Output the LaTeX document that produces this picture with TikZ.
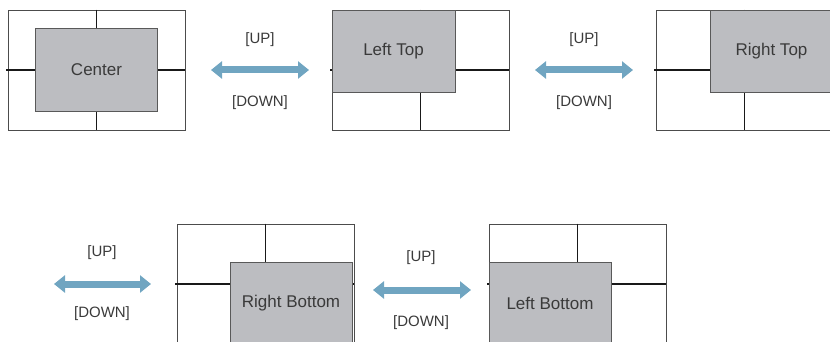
\documentclass[tikz,border=0pt]{standalone}
\usepackage{fontspec}
\setmainfont{Liberation Sans}
\usetikzlibrary{arrows.meta,positioning}
\definecolor{panelgray}{RGB}{188,189,193}
\definecolor{arrowblue}{RGB}{112,165,193}
\definecolor{textgray}{RGB}{58,58,58}
\tikzset{
 frame/.style={draw=black!70,line width=0.8pt,minimum width=177pt,minimum height=120pt,
             inner sep=0pt},
 win/.style={draw=black!65,line width=0.8pt,fill=panelgray,minimum width=122pt,
             minimum height=83pt,inner sep=0pt,text=textgray,font=\fontsize{17}{19}\selectfont},
 cross/.style={line width=1.3pt,black!90},
 swap/.style={arrowblue,line width=7pt,
             {Triangle[width=17pt,length=11pt]}-{Triangle[width=17pt,length=11pt]}},
 lbl/.style={text=textgray,font=\fontsize{15}{17}\selectfont}
}

\begin{document}
\begin{tikzpicture}[x=1pt,y=-1pt]
\clip (0,0) rectangle (830,342);
% screen frames
\node[frame] (f1) at (96.5,70) {};
\node[frame] (f2) at (420.5,70) {};
\node[frame] (f3) at (744.5,70) {};
\node[frame] (f4) at (265.5,284) {};
\node[frame] (f5) at (577.5,284) {};
\foreach \f in {f1,f2,f3,f4,f5}{
  \draw[cross] ([xshift=-1.5pt]\f.west) -- (\f.east);
  \draw[cross] (\f.north) -- (\f.south);
}
% panels
\node[win] (c) at (f1.center) {Center};
\node[win,minimum width=123pt,minimum height=82pt,anchor=north west] (lt) at (f2.north west) {Left Top};
\node[win,minimum width=123pt,minimum height=82pt,anchor=north east] (rt) at (f3.north east) {Right Top};
\node[win,minimum height=82pt,anchor=south east] (rb) at ([xshift=-2pt]f4.south east) {Right Bottom};
\node[win,minimum height=82pt,anchor=south west] (lb) at (f5.south west) {Left Bottom};
% switch arrows
\coordinate (a1l) at (211,70);  \coordinate (a1r) at (309,70);
\coordinate (a2l) at (535,70);  \coordinate (a2r) at (633,70);
\coordinate (a3l) at (54,284);  \coordinate (a3r) at (151,284);
\coordinate (a4l) at (373,290); \coordinate (a4r) at (471,290);
\draw[swap] (a1l) -- (a1r);
\draw[swap] (a2l) -- (a2r);
\draw[swap] (a3l) -- (a3r);
\draw[swap] (a4l) -- (a4r);
\node[lbl] (up1) at (260,40) {[UP]};
\node[lbl] (dn1) at (260,103) {[DOWN]};
\node[lbl] (up2) at (584,40) {[UP]};
\node[lbl] (dn2) at (584,103) {[DOWN]};
\node[lbl] (up3) at (102,253) {[UP]};
\node[lbl] (dn3) at (102,314) {[DOWN]};
\node[lbl] (up4) at (421,258) {[UP]};
\node[lbl] (dn4) at (421,323) {[DOWN]};
\end{tikzpicture}
\end{document}
